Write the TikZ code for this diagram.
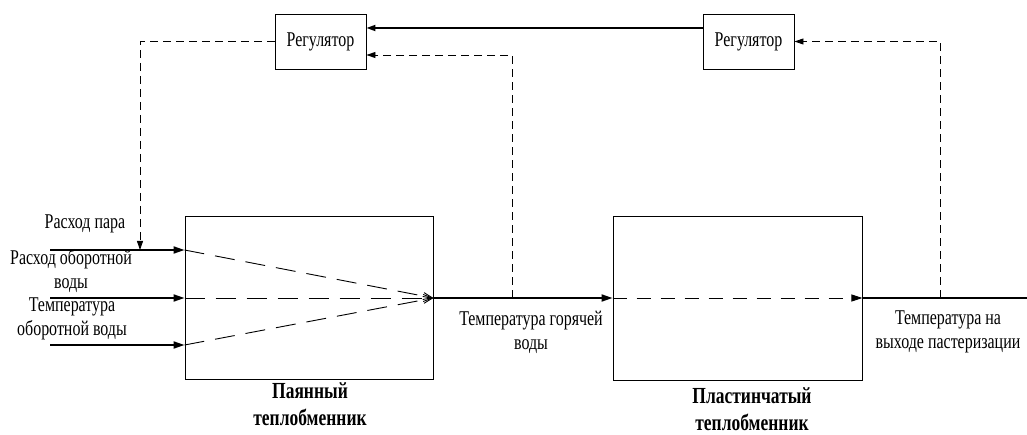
\documentclass[tikz,border=0pt]{standalone}
\usepackage{fontspec}
\setmainfont{Liberation Serif}[FakeStretch=0.76]
\usetikzlibrary{arrows.meta,calc}
\begin{document}
\begin{tikzpicture}[x=1pt,y=-1pt,
  box/.style={draw,line width=0.9pt,inner sep=0pt},
  reg/.style={draw,line width=0.9pt,minimum width=91pt,minimum height=55pt,inner sep=0pt,font=\fontsize{21}{24}\selectfont},
  lbl/.style={align=center,inner sep=0pt,font=\fontsize{21}{24}\selectfont},
  blbl/.style={align=center,inner sep=0pt,font=\fontsize{23}{27}\selectfont\bfseries},
  flow/.style={line width=1.8pt},
  fl/.style={-{Triangle[length=11pt,width=7pt]}},
  sig/.style={line width=0.9pt,dash pattern=on 8pt off 5pt},
  sa/.style={-{Triangle[length=9pt,width=6pt]}},
  inner/.style={line width=0.9pt,dash pattern=on 20pt off 11pt}
]
\useasboundingbox (0,0) rectangle (1027,435);
\node[reg] (reg1) at (320.5,41.5) {Регулятор};
\node[reg] (reg2) at (748.5,41.5) {Регулятор};
\node[box,minimum width=248pt,minimum height=163pt] (box1) at (309,297.5) {};
\node[box,minimum width=249pt,minimum height=164pt] (box2) at (737.5,298.5) {};

\coordinate (in1) at (50,250);
\coordinate (in2) at (50,298);
\coordinate (in3) at (50,345);
\coordinate (c1) at (box1.west |- in2);
\coordinate (c2) at (box1.east |- in2);
\coordinate (out) at (1027,298);
\coordinate (b2w) at (c2 -| box2.west);
\coordinate (b2e) at (c2 -| box2.east);
\coordinate (tap1) at (512,298);
\coordinate (tap2) at (940,298);

% inputs
\draw[flow,fl] (in1) -- (in1 -| box1.west);
\draw[flow,fl] (in2) -- (c1);
\draw[flow,fl] (in3) -- (in3 -| box1.west);
% inner dashed
\draw[inner,-{Straight Barb[length=9pt,width=7pt]}] (in1 -| box1.west) -- (c2);
\draw[inner,-{Straight Barb[length=9pt,width=7pt]}] (c1) -- (c2);
\draw[inner,-{Straight Barb[length=9pt,width=7pt]}] (in3 -| box1.west) -- (c2);
% main flow
\draw[flow,fl] (c2) -- (b2w);
\draw[line width=0.9pt,dash pattern=on 14pt off 10pt,fl] (b2w) -- (b2e);
\draw[flow] (b2e) -- (out);
% control links
\draw[flow,sa] ($(reg2.west)+(0,-13.5)$) -- ($(reg1.east)+(0,-13.5)$);
\draw[sig,sa] (reg1.west) -| ($(in1)+(90,0)$);
\draw[sig,sa] (tap1) |- ($(reg1.east)+(0,13.5)$);
\draw[sig,sa] (tap2) |- (reg2.east);

% labels
\node[lbl] (l1) at (85,224) {Расход пара};
\node[lbl] (l2) at (71,271.5) {Расход оборотной\\воды};
\node[lbl] (l3) at (72,319) {Температура\\оборотной воды};
\node[lbl] (l4) at (531,332) {Температура горячей\\воды};
\node[lbl] (l5) at (948,332) {Температура на\\выходе пастеризации};
\node[blbl] (l6) at (310,404) {Паянный\\теплобменник};
\node[blbl] (l7) at (752,409) {Пластинчатый\\теплобменник};
\end{tikzpicture}
\end{document}
